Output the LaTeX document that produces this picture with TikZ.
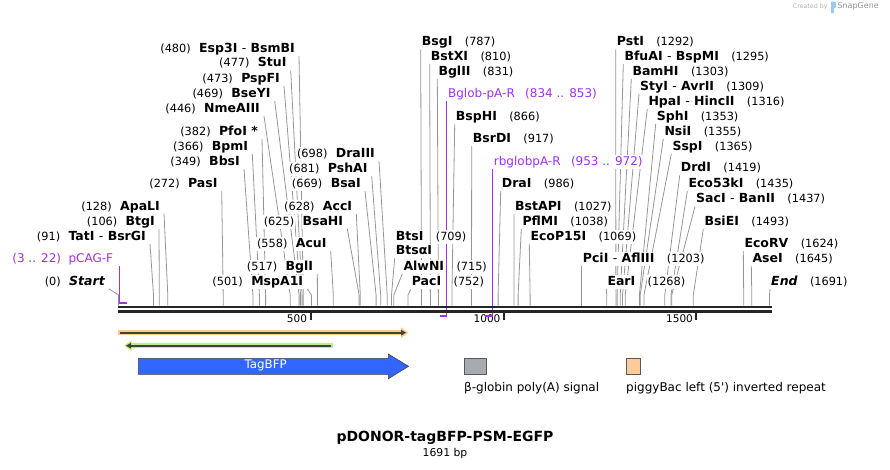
\documentclass[tikz,border=0pt]{standalone}
\usepackage{fontspec}
\setmainfont{DejaVu Sans}
\usetikzlibrary{positioning,arrows.meta}
\pgfdeclarelayer{back}
\pgfsetlayers{back,main}
\definecolor{sitegray}{RGB}{150,150,150}
\definecolor{primerpurple}{RGB}{160,48,240}
\definecolor{bbdark}{RGB}{38,38,38}
\definecolor{pborange}{RGB}{255,204,136}
\definecolor{halogreen}{RGB}{184,238,144}
\definecolor{tagblue}{RGB}{51,102,255}
\definecolor{polyagray}{RGB}{166,171,178}
\definecolor{legorange}{RGB}{255,204,153}
\definecolor{iconblue}{RGB}{150,205,235}

\begin{document}
\begin{tikzpicture}[x=1pt,y=-1pt,
    cut/.style={font=\fontsize{12.5}{13}\selectfont\bfseries, fill=white, inner xsep=1pt, inner ysep=1pt, text height=9.2pt, text depth=2.6pt},
    bpnum/.style={font=\fontsize{11.3}{13}\selectfont, fill=white, inner xsep=1pt, inner ysep=1pt, text height=9.2pt, text depth=2.6pt},
    primer/.style={font=\fontsize{12}{13}\selectfont, text=primerpurple, fill=white, inner xsep=1pt, inner ysep=1pt, text height=9.2pt, text depth=2.6pt},
    siteline/.style={draw=sitegray, line width=0.8pt},
    primerline/.style={draw=primerpurple, line width=1pt},
    primerbar/.style={draw=primerpurple, line width=2.2pt}]
    \useasboundingbox (0,0) rectangle (890,469);

    % backbone and ruler
    \draw[bbdark, line width=2.5pt] (118,307) -- (771.5,307);
    \draw[bbdark, line width=2.5pt] (118,311.3) -- (771.5,311.3);
    \draw[bbdark, line width=1.8pt] (311,312.5) -- (311,319.5);
    \draw[bbdark, line width=1.8pt] (503.7,312.5) -- (503.7,319.5);
    \draw[bbdark, line width=1.8pt] (696,312.5) -- (696,319.5);
    \node[bpnum, fill=none, font=\fontsize{10.5}{12}\selectfont] (t500) at (297,319.5) {500};
    \node[bpnum, fill=none, font=\fontsize{10.5}{12}\selectfont] (t1000) at (487,319.5) {1000};
    \node[bpnum, fill=none, font=\fontsize{10.5}{12}\selectfont] (t1500) at (679.5,319.5) {1500};

    % left labels
    \node[cut, anchor=east] (esp) at (296,49) {Esp3I \textmd{-} BsmBI};
    \node[bpnum, left=6pt of esp] (esp-n) {(480)};
    \node[cut, anchor=east] (stu) at (287.7,63.3) {StuI};
    \node[bpnum, left=6pt of stu] (stu-n) {(477)};
    \node[cut, anchor=east] (pspf) at (281,79) {PspFI};
    \node[bpnum, left=6pt of pspf] (pspf-n) {(473)};
    \node[cut, anchor=east] (bsey) at (271.7,94) {BseYI};
    \node[bpnum, left=6pt of bsey] (bsey-n) {(469)};
    \node[cut, anchor=east] (nme) at (261,109) {NmeAIII};
    \node[bpnum, left=6pt of nme] (nme-n) {(446)};
    \node[cut, anchor=east] (pfo) at (259,131.7) {PfoI *};
    \node[bpnum, left=6pt of pfo] (pfo-n) {(382)};
    \node[cut, anchor=east] (bpm) at (249.3,146.7) {BpmI};
    \node[bpnum, left=6pt of bpm] (bpm-n) {(366)};
    \node[cut, anchor=east] (bbs) at (241,161.7) {BbsI};
    \node[bpnum, left=6pt of bbs] (bbs-n) {(349)};
    \node[cut, anchor=east] (pas) at (218.7,184) {PasI};
    \node[bpnum, left=6pt of pas] (pas-n) {(272)};
    \node[cut, anchor=east] (apal) at (161,206.7) {ApaLI};
    \node[bpnum, left=6pt of apal] (apal-n) {(128)};
    \node[cut, anchor=east] (btg) at (156,221.7) {BtgI};
    \node[bpnum, left=6pt of btg] (btg-n) {(106)};
    \node[cut, anchor=east] (tat) at (147,236.7) {TatI \textmd{-} BsrGI};
    \node[bpnum, left=6pt of tat] (tat-n) {(91)};
    \node[cut, anchor=east] (start) at (106,281.7) {\itshape Start};
    \node[bpnum, left=6pt of start] (start-n) {(0)};
    \node[cut, anchor=east] (dra3) at (376,154) {DraIII};
    \node[bpnum, left=6pt of dra3] (dra3-n) {(698)};
    \node[cut, anchor=east] (psha) at (368.7,169) {PshAI};
    \node[bpnum, left=6pt of psha] (psha-n) {(681)};
    \node[cut, anchor=east] (bsa) at (362,184) {BsaI};
    \node[bpnum, left=6pt of bsa] (bsa-n) {(669)};
    \node[cut, anchor=east] (acc) at (353.3,206.7) {AccI};
    \node[bpnum, left=6pt of acc] (acc-n) {(628)};
    \node[cut, anchor=east] (bsah) at (344.3,221.7) {BsaHI};
    \node[bpnum, left=6pt of bsah] (bsah-n) {(625)};
    \node[cut, anchor=east] (acu) at (327.7,244) {AcuI};
    \node[bpnum, left=6pt of acu] (acu-n) {(558)};
    \node[cut, anchor=east] (bgl1) at (314.3,266.7) {BglI};
    \node[bpnum, left=6pt of bgl1] (bgl1-n) {(517)};
    \node[cut, anchor=east] (msp) at (304.3,281.7) {MspA1I};
    \node[bpnum, left=6pt of msp] (msp-n) {(501)};

    % right labels
    \node[cut, anchor=west] (bsg) at (420.7,42.3) {BsgI};
    \node[bpnum, right=10pt of bsg] (bsg-n) {(787)};
    \node[cut, anchor=west] (bstx) at (429.7,56.7) {BstXI};
    \node[bpnum, right=10pt of bstx] (bstx-n) {(810)};
    \node[cut, anchor=west] (bgl2) at (437.3,71.7) {BglII};
    \node[bpnum, right=10pt of bgl2] (bgl2-n) {(831)};
    \node[cut, anchor=west] (bsph) at (454.7,117.3) {BspHI};
    \node[bpnum, right=10pt of bsph] (bsph-n) {(866)};
    \node[cut, anchor=west] (bsrd) at (471.7,139) {BsrDI};
    \node[bpnum, right=10pt of bsrd] (bsrd-n) {(917)};
    \node[cut, anchor=west] (dra1) at (500.7,184) {DraI};
    \node[bpnum, right=10pt of dra1] (dra1-n) {(986)};
    \node[cut, anchor=west] (bstap) at (514,206.7) {BstAPI};
    \node[bpnum, right=10pt of bstap] (bstap-n) {(1027)};
    \node[cut, anchor=west] (pflm) at (521.3,221.7) {PflMI};
    \node[bpnum, right=10pt of pflm] (pflm-n) {(1038)};
    \node[cut, anchor=west] (ecop) at (529.3,236.7) {EcoP15I};
    \node[bpnum, right=10pt of ecop] (ecop-n) {(1069)};
    \node[cut, anchor=west] (bts) at (394.7,236.7) {BtsI};
    \node[bpnum, right=10pt of bts] (bts-n) {(709)};
    \node[cut, anchor=west] (btsa) at (394.7,251) {BtsαI};
    \node[cut, anchor=west] (alwn) at (402.3,266.7) {AlwNI};
    \node[bpnum, right=10pt of alwn] (alwn-n) {(715)};
    \node[cut, anchor=west] (pac) at (410.7,282.3) {PacI};
    \node[bpnum, right=10pt of pac] (pac-n) {(752)};
    \node[cut, anchor=west] (pci) at (581.7,259) {PciI \textmd{-} AflIII};
    \node[bpnum, right=10pt of pci] (pci-n) {(1203)};
    \node[cut, anchor=west] (ear) at (606.3,281.7) {EarI};
    \node[bpnum, right=10pt of ear] (ear-n) {(1268)};
    \node[cut, anchor=west] (pst) at (615.7,42.3) {PstI};
    \node[bpnum, right=10pt of pst] (pst-n) {(1292)};
    \node[cut, anchor=west] (bfua) at (623.3,56.7) {BfuAI \textmd{-} BspMI};
    \node[bpnum, right=10pt of bfua] (bfua-n) {(1295)};
    \node[cut, anchor=west] (bamh) at (631.3,71.7) {BamHI};
    \node[bpnum, right=10pt of bamh] (bamh-n) {(1303)};
    \node[cut, anchor=west] (sty) at (639,86.7) {StyI \textmd{-} AvrII};
    \node[bpnum, right=10pt of sty] (sty-n) {(1309)};
    \node[cut, anchor=west] (hpa) at (647.3,101.7) {HpaI \textmd{-} HincII};
    \node[bpnum, right=10pt of hpa] (hpa-n) {(1316)};
    \node[cut, anchor=west] (sph) at (655.7,116.7) {SphI};
    \node[bpnum, right=10pt of sph] (sph-n) {(1353)};
    \node[cut, anchor=west] (nsi) at (663.3,131.7) {NsiI};
    \node[bpnum, right=10pt of nsi] (nsi-n) {(1355)};
    \node[cut, anchor=west] (ssp) at (671.3,146.7) {SspI};
    \node[bpnum, right=10pt of ssp] (ssp-n) {(1365)};
    \node[cut, anchor=west] (drd) at (679.7,168.3) {DrdI};
    \node[bpnum, right=10pt of drd] (drd-n) {(1419)};
    \node[cut, anchor=west] (eco53) at (687.3,184) {Eco53kI};
    \node[bpnum, right=10pt of eco53] (eco53-n) {(1435)};
    \node[cut, anchor=west] (sac) at (695,199.3) {SacI \textmd{-} BanII};
    \node[bpnum, right=10pt of sac] (sac-n) {(1437)};
    \node[cut, anchor=west] (bsie) at (703.3,221.7) {BsiEI};
    \node[bpnum, right=10pt of bsie] (bsie-n) {(1493)};
    \node[cut, anchor=west] (ecorv) at (743.3,244) {EcoRV};
    \node[bpnum, right=10pt of ecorv] (ecorv-n) {(1624)};
    \node[cut, anchor=west] (ase) at (751.3,259) {AseI};
    \node[bpnum, right=10pt of ase] (ase-n) {(1645)};
    \node[cut, anchor=west] (end) at (770,281.7) {\itshape End};
    \node[bpnum, right=10pt of end] (end-n) {(1691)};

    % primers
    \node[primer, anchor=east] (pcag) at (114.3,259.3) {pCAG-F};
    \node[primer, left=5pt of pcag] (pcag-n) {(3 .. 22)};
    \node[primer, anchor=west] (bglob) at (446.9,94) {Bglob-pA-R};
    \node[primer, right=8pt of bglob] (bglob-n) {(834 .. 853)};
    \node[primer, anchor=west] (rbglob) at (492.7,161.7) {rbglobpA-R};
    \node[primer, right=8pt of rbglob] (rbglob-n) {(953 .. 972)};
    \coordinate (s-pcag) at (119.7,302.7);
    \coordinate (s-bglob) at (446.9,315.7);
    \coordinate (s-rbglob) at (492.7,315.7);

    % cut sites
    \coordinate (s-esp) at (303.3,295);
    \coordinate (s-stu) at (302.1,295);
    \coordinate (s-pspf) at (300.6,295);
    \coordinate (s-bsey) at (299.1,295);
    \coordinate (s-nme) at (290.2,295);
    \coordinate (s-pfo) at (265.6,295);
    \coordinate (s-bpm) at (259.4,295);
    \coordinate (s-bbs) at (252.9,295);
    \coordinate (s-pas) at (223.2,295);
    \coordinate (s-apal) at (167.8,295);
    \coordinate (s-btg) at (159.3,295);
    \coordinate (s-tat) at (153.5,295);
    \coordinate (s-start) at (118.5,295);
    \coordinate (s-dra3) at (387.2,295);
    \coordinate (s-psha) at (380.7,295);
    \coordinate (s-bsa) at (376.1,295);
    \coordinate (s-acc) at (360.3,295);
    \coordinate (s-bsah) at (359.1,295);
    \coordinate (s-acu) at (333.3,295);
    \coordinate (s-bgl1) at (317.5,295);
    \coordinate (s-msp) at (311.4,295);
    \coordinate (s-bsg) at (421.5,295);
    \coordinate (s-bstx) at (430.4,295);
    \coordinate (s-bgl2) at (438.4,295);
    \coordinate (s-bsph) at (451.9,295);
    \coordinate (s-bsrd) at (471.5,295);
    \coordinate (s-dra1) at (498.1,295);
    \coordinate (s-bstap) at (513.9,295);
    \coordinate (s-pflm) at (518.1,295);
    \coordinate (s-ecop) at (530.1,295);
    \coordinate (s-bts) at (391.5,295);
    \coordinate (s-alwn) at (393.8,295);
    \coordinate (s-pac) at (408.0,295);
    \coordinate (s-pci) at (581.7,295);
    \coordinate (s-ear) at (606.7,295);
    \coordinate (s-pst) at (615.9,295);
    \coordinate (s-bfua) at (617.1,295);
    \coordinate (s-bamh) at (620.2,295);
    \coordinate (s-sty) at (622.5,295);
    \coordinate (s-hpa) at (625.2,295);
    \coordinate (s-sph) at (639.4,295);
    \coordinate (s-nsi) at (640.2,295);
    \coordinate (s-ssp) at (644.0,295);
    \coordinate (s-drd) at (664.8,295);
    \coordinate (s-eco53) at (671.0,295);
    \coordinate (s-sac) at (671.7,295);
    \coordinate (s-bsie) at (693.3,295);
    \coordinate (s-ecorv) at (743.7,295);
    \coordinate (s-ase) at (751.8,295);
    \coordinate (s-end) at (769.5,295);

    \begin{pgfonlayer}{back}
        \foreach \n in {esp,stu,pspf,bsey,nme,pfo,bpm,bbs,pas,apal,btg,tat,start,dra3,psha,bsa,acc,bsah,acu,bgl1,msp}
            \draw[siteline] ([xshift=3pt]\n.south east) -- (s-\n) -- ++(0,10.5);
        \foreach \n in {bsg,bstx,bgl2,bsph,bsrd,dra1,bstap,pflm,ecop,alwn,pac,pci,ear,pst,bfua,bamh,sty,hpa,sph,nsi,ssp,drd,eco53,sac,bsie,ecorv,ase,end}
            \draw[siteline] (\n.south west) -- (s-\n) -- ++(0,10.5);
        \draw[siteline] (btsa.south west) -- (s-bts) -- ++(0,10.5);
        \draw[primerline] (pcag.south east -| s-pcag) -- (s-pcag);
        \draw[primerline] (bglob.south west) -- (s-bglob);
        \draw[primerline] (rbglob.south west) -- (s-rbglob);
    \end{pgfonlayer}

    % primer bars
    \draw[primerbar] (118.5,302.7) -- (127,302.7);
    \draw[primerbar] (439.6,315.7) -- (447.4,315.7);
    \draw[primerbar] (485.4,315.7) -- (493.2,315.7);

    % features
    \draw[pborange, line width=5.5pt] (118,332.7) -- (402,332.7);
    \fill[pborange] (401,327.3) -- (408.5,332.7) -- (401,338.1) -- cycle;
    \draw[black!75, line width=1.6pt, -{Triangle[length=5pt,width=5.5pt]}] (120,332.7) -- (406,332.7);
    \draw[halogreen, line width=5pt] (131,345.7) -- (332.7,345.7);
    \fill[halogreen] (131.5,340.5) -- (124,345.7) -- (131.5,350.9) -- cycle;
    \draw[black!75, line width=1.6pt, -{Triangle[length=5pt,width=5.5pt]}] (331,345.7) -- (126,345.7);
    \filldraw[fill=tagblue, draw=black!75, line width=0.6pt] (138.3,358.3) -- (388.3,358.3) -- (388.3,354) -- (408.5,366.3) -- (388.3,378.8) -- (388.3,374.3) -- (138.3,374.3) -- cycle;
    \node[text=white, font=\fontsize{11.8}{13}\selectfont] (tagbfp) at (265.7,365.8) {TagBFP};

    % legend
    \filldraw[fill=polyagray, draw=black!65, line width=0.6pt] (464,358) rectangle (486.7,374.3);
    \node[anchor=west, inner xsep=0pt, font=\fontsize{12}{13}\selectfont] (polya) at (464,388) {β-globin poly(A) signal};
    \filldraw[fill=legorange, draw=black!65, line width=0.6pt] (626,358) rectangle (640.7,374.3);
    \node[anchor=west, inner xsep=0pt, font=\fontsize{12}{13}\selectfont] (pbleft) at (626,388) {piggyBac left (5\textquotesingle) inverted repeat};

    % title
    \node[font=\fontsize{14}{16}\selectfont\bfseries] (title) at (445,438) {pDONOR-tagBFP-PSM-EGFP};
    \node[font=\fontsize{10.8}{12}\selectfont] (size) at (445,453.5) {1691 bp};

    % logo
    \node[anchor=west, inner sep=0pt, text=black!30, font=\fontsize{6.3}{7}\selectfont] (created) at (792.7,6.5) {Created by};
    \fill[iconblue] (831,1.5) -- (836,1.5) -- (836,7) -- (834,8.5) -- (834,13) -- (831,13) -- cycle;
    \node[anchor=west, inner sep=0pt, text=black!42, font=\fontsize{8}{9}\selectfont] (snapgene) at (837.3,6.5) {SnapGene};
\end{tikzpicture}
\end{document}
